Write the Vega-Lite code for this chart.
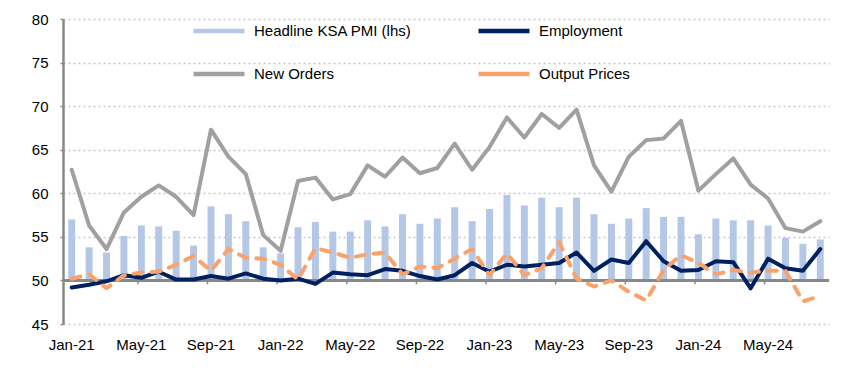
{
  "$schema": "https://vega.github.io/schema/vega-lite/v6.json",
  "width": 766,
  "height": 305,
  "autosize": {"type": "none"},
  "padding": {"left": 63, "top": 19, "right": 26, "bottom": 51},
  "background": "white",
  "config": {"font": "Liberation Sans", "view": {"stroke": null}},
  "data": {
    "values": [
      {"m": "Jan-21", "pmi": 57.0, "emp": 49.2, "no": 62.7, "op": 50.2},
      {"m": "Feb-21", "pmi": 53.8, "emp": 49.5, "no": 56.3, "op": 50.7},
      {"m": "Mar-21", "pmi": 53.2, "emp": 49.9, "no": 53.6, "op": 49.1},
      {"m": "Apr-21", "pmi": 55.1, "emp": 50.6, "no": 57.8, "op": 50.6},
      {"m": "May-21", "pmi": 56.3, "emp": 50.3, "no": 59.6, "op": 50.9},
      {"m": "Jun-21", "pmi": 56.2, "emp": 51.0, "no": 60.9, "op": 51.0},
      {"m": "Jul-21", "pmi": 55.7, "emp": 50.1, "no": 59.6, "op": 51.8},
      {"m": "Aug-21", "pmi": 54.0, "emp": 50.1, "no": 57.5, "op": 52.8},
      {"m": "Sep-21", "pmi": 58.5, "emp": 50.5, "no": 67.3, "op": 51.1},
      {"m": "Oct-21", "pmi": 57.6, "emp": 50.2, "no": 64.2, "op": 53.6},
      {"m": "Nov-21", "pmi": 56.8, "emp": 50.8, "no": 62.2, "op": 52.6},
      {"m": "Dec-21", "pmi": 53.8, "emp": 50.2, "no": 55.2, "op": 52.5},
      {"m": "Jan-22", "pmi": 53.1, "emp": 50.0, "no": 53.4, "op": 51.8},
      {"m": "Feb-22", "pmi": 56.1, "emp": 50.2, "no": 61.4, "op": 50.1},
      {"m": "Mar-22", "pmi": 56.7, "emp": 49.6, "no": 61.8, "op": 53.7},
      {"m": "Apr-22", "pmi": 55.6, "emp": 50.9, "no": 59.3, "op": 53.2},
      {"m": "May-22", "pmi": 55.6, "emp": 50.7, "no": 59.9, "op": 52.6},
      {"m": "Jun-22", "pmi": 56.9, "emp": 50.6, "no": 63.2, "op": 53.0},
      {"m": "Jul-22", "pmi": 56.2, "emp": 51.3, "no": 61.9, "op": 53.2},
      {"m": "Aug-22", "pmi": 57.6, "emp": 51.1, "no": 64.1, "op": 50.7},
      {"m": "Sep-22", "pmi": 56.5, "emp": 50.5, "no": 62.3, "op": 51.6},
      {"m": "Oct-22", "pmi": 57.1, "emp": 50.1, "no": 62.9, "op": 51.4},
      {"m": "Nov-22", "pmi": 58.4, "emp": 50.6, "no": 65.7, "op": 52.5},
      {"m": "Dec-22", "pmi": 56.8, "emp": 52.0, "no": 62.7, "op": 53.6},
      {"m": "Jan-23", "pmi": 58.2, "emp": 51.0, "no": 65.3, "op": 50.6},
      {"m": "Feb-23", "pmi": 59.8, "emp": 51.8, "no": 68.7, "op": 53.1},
      {"m": "Mar-23", "pmi": 58.6, "emp": 51.6, "no": 66.4, "op": 50.6},
      {"m": "Apr-23", "pmi": 59.5, "emp": 51.8, "no": 69.1, "op": 51.4},
      {"m": "May-23", "pmi": 58.4, "emp": 52.0, "no": 67.5, "op": 54.4},
      {"m": "Jun-23", "pmi": 59.5, "emp": 53.2, "no": 69.6, "op": 50.2},
      {"m": "Jul-23", "pmi": 57.6, "emp": 51.1, "no": 63.2, "op": 49.3},
      {"m": "Aug-23", "pmi": 56.5, "emp": 52.4, "no": 60.2, "op": 50.0},
      {"m": "Sep-23", "pmi": 57.1, "emp": 52.0, "no": 64.2, "op": 48.7},
      {"m": "Oct-23", "pmi": 58.3, "emp": 54.5, "no": 66.1, "op": 47.7},
      {"m": "Nov-23", "pmi": 57.3, "emp": 52.2, "no": 66.3, "op": 51.2},
      {"m": "Dec-23", "pmi": 57.3, "emp": 51.1, "no": 68.3, "op": 52.9},
      {"m": "Jan-24", "pmi": 55.3, "emp": 51.2, "no": 60.3, "op": 52.0},
      {"m": "Feb-24", "pmi": 57.1, "emp": 52.2, "no": 62.2, "op": 50.7},
      {"m": "Mar-24", "pmi": 56.9, "emp": 52.1, "no": 64.0, "op": 51.2},
      {"m": "Apr-24", "pmi": 56.9, "emp": 49.1, "no": 61.0, "op": 50.9},
      {"m": "May-24", "pmi": 56.3, "emp": 52.5, "no": 59.4, "op": 51.1},
      {"m": "Jun-24", "pmi": 54.9, "emp": 51.4, "no": 56.0, "op": 51.1},
      {"m": "Jul-24", "pmi": 54.2, "emp": 51.1, "no": 55.6, "op": 47.6},
      {"m": "Aug-24", "pmi": 54.7, "emp": 53.6, "no": 56.8, "op": 48.2}
    ]
  },
  "transform": [{"fold": ["pmi", "emp", "no", "op"], "as": ["series", "value"]}],
  "layer": [
    {
      "transform": [{"filter": {"field": "series", "equal": "pmi"}}],
      "mark": {"type": "bar"},
      "encoding": {
        "x": {
          "field": "m",
          "type": "ordinal",
          "sort": null,
          "scale": {"paddingInner": 0.6, "paddingOuter": 0.3},
          "axis": {
            "title": null,
            "domain": false,
            "ticks": false,
            "grid": false,
            "labelAngle": 0,
            "labelFontSize": 15,
            "labelColor": "#000",
            "labelPadding": 13,
            "values": ["Jan-21", "May-21", "Sep-21", "Jan-22", "May-22", "Sep-22", "Jan-23", "May-23", "Sep-23", "Jan-24", "May-24"]
          }
        },
        "y": {
          "field": "value",
          "type": "quantitative",
          "scale": {"domain": [45, 80], "nice": false, "zero": false},
          "axis": {
            "title": null,
            "values": [45, 50, 55, 60, 65, 70, 75, 80],
            "grid": true,
            "gridDash": [2, 3],
            "gridColor": "#c8c8c8",
            "gridWidth": 1.5,
            "domainColor": "#888",
            "domainWidth": 2.5,
            "tickColor": "#888",
            "tickSize": 3,
            "tickWidth": 1.5,
            "labelFontSize": 15,
            "labelColor": "#000",
            "labelPadding": 12
          }
        },
        "y2": {"datum": 50},
        "color": {
          "field": "series",
          "type": "nominal",
          "scale": {"domain": ["pmi", "no", "emp", "op"], "range": ["#B4C7E7", "#A0A0A0", "#002060", "#F9A26C"]},
          "legend": {
            "title": null,
            "orient": "none",
            "legendX": 128,
            "legendY": -16,
            "columns": 2,
            "columnPadding": 57,
            "rowPadding": 6,
            "symbolType": "stroke",
            "symbolSize": 2600,
            "symbolStrokeWidth": 4.5,
            "labelFontSize": 15,
            "labelColor": "#000",
            "labelOffset": 7,
            "labelExpr": "{'pmi': 'Headline KSA PMI (lhs)', 'emp': 'Employment', 'no': 'New Orders', 'op': 'Output Prices'}[datum.label]"
          }
        }
      }
    },
    {
      "mark": {"type": "rule", "color": "#888", "strokeWidth": 2.5},
      "encoding": {"y": {"datum": 50, "type": "quantitative"}}
    },
    {
      "transform": [
        {"filter": {"field": "series", "equal": "pmi"}},
        {"filter": {"field": "m", "oneOf": ["May-21", "Sep-21", "Jan-22", "May-22", "Sep-22", "Jan-23", "May-23", "Sep-23", "Jan-24", "May-24"]}}
      ],
      "mark": {"type": "rule", "color": "#888", "strokeWidth": 1.5},
      "encoding": {
        "x": {"field": "m", "type": "ordinal", "sort": null, "bandPosition": 0},
        "y": {"datum": 50, "type": "quantitative"},
        "y2": {"datum": 49.55}
      }
    },
    {
      "transform": [{"filter": {"field": "series", "oneOf": ["emp", "no"]}}],
      "mark": {"type": "line", "strokeWidth": 4, "strokeCap": "round", "strokeJoin": "round"},
      "encoding": {
        "x": {"field": "m", "type": "ordinal", "sort": null},
        "y": {"field": "value", "type": "quantitative"},
        "color": {"field": "series", "type": "nominal"}
      }
    },
    {
      "transform": [{"filter": {"field": "series", "equal": "op"}}],
      "mark": {"type": "line", "strokeWidth": 4, "strokeCap": "round", "strokeJoin": "round", "strokeDash": [9, 9]},
      "encoding": {
        "x": {"field": "m", "type": "ordinal", "sort": null},
        "y": {"field": "value", "type": "quantitative"},
        "color": {"field": "series", "type": "nominal"}
      }
    }
  ]
}
